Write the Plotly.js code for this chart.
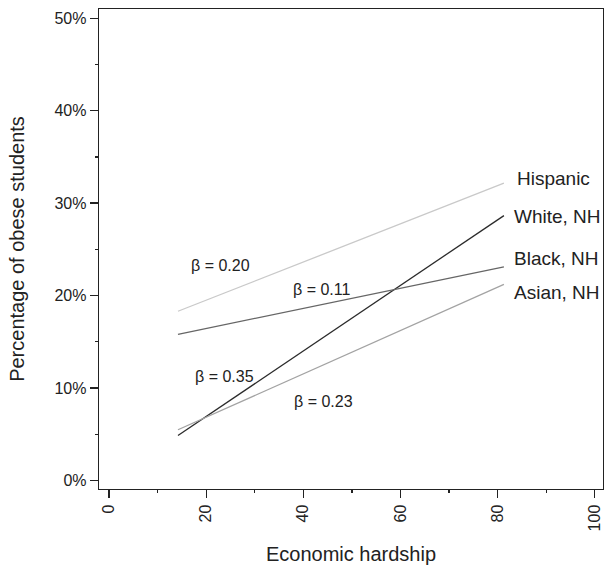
<!DOCTYPE html>
<html>
<head>
<meta charset="utf-8">
<script src="https://cdn.plot.ly/plotly-3.0.1.min.js"></script>
<style>html,body{margin:0;padding:0;background:#fff;}#chart{width:605px;height:571px;}</style>
</head>
<body>
<div id="chart"></div>
<script>
// Data
const groups = ['Hispanic', 'White, NH', 'Black, NH', 'Asian, NH'];
const hardship = [14.2, 81.3];
const hispanic = [18.3, 32.15];
const white = [4.86, 28.65];
const black = [15.8, 23.1];
const asian = [5.48, 21.2];
const betaText = ['β = 0.20', 'β = 0.35', 'β = 0.11', 'β = 0.23'];
const betaX = [22.9, 23.7, 43.8, 44.2];
const betaY = [23.2, 11.2, 20.7, 8.5];
const labelX = [83.5, 82.9, 82.9, 82.9];
const labelY = [32.7, 28.5, 24.0, 20.3];
const xTicks = [0, 20, 40, 60, 80, 100];
const yTicks = [0, 10, 20, 30, 40, 50];
const yTickText = ['0%', '10%', '20%', '30%', '40%', '50%'];

const FONT = 'Arial, "Liberation Sans", Helvetica, sans-serif';
const TXT = '#222222';
const series = [hispanic, white, black, asian];
const colors = ['#c9c9c9', '#2b2b2b', '#666666', '#a3a3a3'];

const traces = series.map((s, i) => ({
  x: hardship, y: s, type: 'scatter', mode: 'lines', name: groups[i],
  line: {color: colors[i], width: 1.3}, hoverinfo: 'skip', showlegend: false
}));

const annotations = [];
betaText.forEach((t, i) => annotations.push({
  x: betaX[i], y: betaY[i], xref: 'x', yref: 'y', text: t, showarrow: false,
  xanchor: 'center', yanchor: 'middle', font: {family: FONT, size: 16, color: TXT}
}));
groups.forEach((g, i) => annotations.push({
  x: labelX[i], y: labelY[i], xref: 'x', yref: 'y', text: g, showarrow: false,
  xanchor: 'left', yanchor: 'middle', font: {family: FONT, size: 19, color: TXT}
}));

const axisCommon = {
  showline: true, mirror: true, linecolor: '#222', linewidth: 1.3,
  showgrid: false, zeroline: false, ticks: 'outside', ticklen: 8, tickwidth: 1.3,
  tickcolor: '#222', tickfont: {family: FONT, size: 16, color: TXT},
  fixedrange: true
};

const layout = {
  width: 605, height: 571,
  margin: {l: 99, r: 2, t: 9, b: 82},
  paper_bgcolor: '#fff', plot_bgcolor: '#fff',
  font: {family: FONT, color: TXT},
  xaxis: Object.assign({}, axisCommon, {
    range: [-2.06, 101.7], tickmode: 'array', tickvals: xTicks,
    ticktext: xTicks.map(String), tickangle: -90,
    minor: {dtick: 10, tick0: 0, ticks: 'outside', ticklen: 3, tickwidth: 1.3, tickcolor: '#222'},
    title: {text: 'Economic hardship', font: {family: FONT, size: 20, color: TXT}, standoff: 16}
  }),
  yaxis: Object.assign({}, axisCommon, {
    range: [-0.93, 51.0], tickmode: 'array', tickvals: yTicks, ticktext: yTickText,
    minor: {dtick: 5, tick0: 0, ticks: 'outside', ticklen: 3, tickwidth: 1.3, tickcolor: '#222'},
    title: {text: 'Percentage of obese students', font: {family: FONT, size: 20, color: TXT}, standoff: 24}
  }),
  annotations: annotations
};

Plotly.newPlot('chart', traces, layout, {displayModeBar: false, staticPlot: true});
</script>
</body>
</html>
